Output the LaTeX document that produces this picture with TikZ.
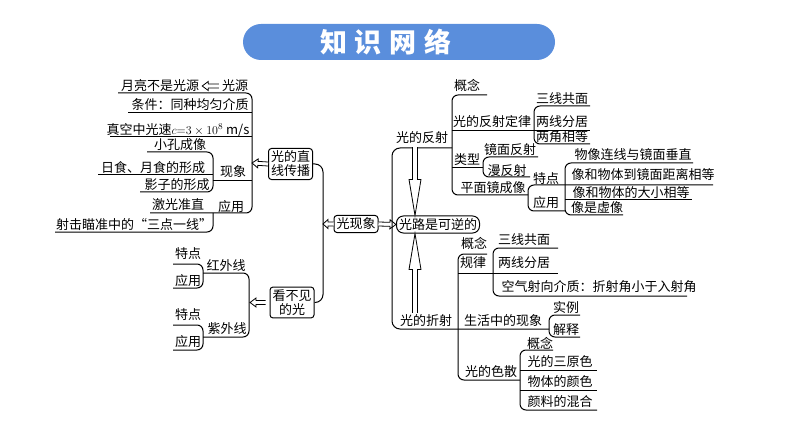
\documentclass[tikz,border=0pt]{standalone}
\usepackage{fontspec}
\setmainfont{Noto Sans CJK SC}
\usepackage{tikz}
\usetikzlibrary{calc}
\definecolor{titleblue}{RGB}{90,142,220}

\tikzset{
  bar/.style={line width=1pt, rounded corners=6pt},
  lbl/.style={inner sep=0pt, font=\fontsize{13}{14}\selectfont},
  tag/.style={lbl, draw, line width=1pt, rounded corners=3pt, inner sep=2.5pt, align=center},
}

% hollow arrow: from, to, head length, head half width, shaft half width
\newcommand{\fatarrow}[5]{%
  \path let \p1=(#1), \p2=(#2) in
    \pgfextra{\pgfmathsetmacro\faang{atan2(\y2-\y1,\x2-\x1)}%
              \pgfmathsetmacro\falen{veclen(\x2-\x1,\y2-\y1)}%
              \xdef\faang{\faang}\xdef\falen{\falen}\xdef\fax{\x1}\xdef\fay{\y1}};
  \begin{scope}[shift={(\fax,\fay)}, rotate=\faang]
    \filldraw[fill=white, line width=0.8pt, line join=miter]
      (0pt,#5) -- (\falen pt-#3,#5) -- (\falen pt-#3,#4) -- (\falen pt,0pt)
      -- (\falen pt-#3,-#4) -- (\falen pt-#3,-#5) -- (0pt,-#5);
  \end{scope}}

\begin{document}
\begin{tikzpicture}[x=1pt, y=-1pt]
  \useasboundingbox (0,0) rectangle (794,446);

  % title
  \fill[titleblue, rounded corners=18pt] (243,24) rectangle (555,60);
  \node[font=\fontsize{27}{27}\selectfont\bfseries, text=white, inner sep=0pt] (title) at (386,42)
    {知\hspace{8pt}识\hspace{8pt}网\hspace{8pt}络};

  % centre
  \node[tag] (phenom) at (356,224) {光现象};
  \node[tag, rounded corners=7pt] (rev) at (438,224.5) {光路是可逆的};
  \node[tag] (straight) at (290.5,164) {光的直\\线传播};
  \node[tag] (invis) at (292,302.5) {看不见\\的光};
  \coordinate (pb) at (323,224);
  \fatarrow{phenom.west}{pb}{5pt}{4.5pt}{2pt}
  \fatarrow{phenom.east}{rev.west}{6pt}{4.5pt}{2pt}
  \draw[bar, rounded corners=8pt] (straight.east) -- ++(10,0) |- (invis.east);

  % light travels in straight lines
  \node[lbl] (moon) at (160,86) {月亮不是光源};
  \node[lbl] (source) at (235,86) {光源};
  \fatarrow{$(source.west)+(-3,0)$}{$(moon.east)+(3,0)$}{6pt}{4.5pt}{2pt}
  \node[lbl] (cond) at (190,105) {条件：同种均匀介质};
  \node[lbl] (speed) at (178,130) {真空中光速$c{=}3\times10^{8}$ m/s};
  \node[lbl] (pinhole) at (180,145) {小孔成像};
  \node[lbl] (eclipse) at (153,168) {日食、月食的形成};
  \node[lbl] (shadow) at (177,185) {影子的形成};
  \node[lbl] (phen) at (233,172) {现象};
  \node[lbl] (laser) at (178,205) {激光准直};
  \node[lbl] (appl) at (231,207) {应用};
  \node[lbl] (aim) at (134,225) {射击瞄准中的“三点一线”};
  \draw[bar] (118,93) -- (252,93) -- (252,213) -- (150,213);
  \draw[bar] (128,113) -- (252,113);
  \draw[bar] (110,137) -- (252,137);
  \draw[bar] (147,152) -- (213,152) -- (213,192) -- (140,192);
  \draw[bar] (98,175) -- (213,175);
  \draw[bar] (213,181) -- (252,181);
  \draw[bar] (55,232) -- (213,232) -- (213,213);
  \coordinate (sb) at (252,163);
  \fatarrow{straight.west}{sb}{6pt}{4.5pt}{2pt}

  % invisible light
  \coordinate (ib) at (250,302.5);
  \fatarrow{$(invis.west)+(-4,0)$}{ib}{6pt}{4.5pt}{2pt}
  \node[lbl] (ir) at (226,266) {红外线};
  \node[lbl] (uv) at (227,329) {紫外线};
  \node[lbl] (irf) at (188,254) {特点};
  \node[lbl] (ira) at (188,281) {应用};
  \node[lbl] (uvf) at (188,315) {特点};
  \node[lbl] (uva) at (188,342) {应用};
  \draw[bar] (203,273) -- (249,273) -- (249,337) -- (203,337);
  \draw[bar] (173,264) -- (203,264) -- (203,288) -- (173,288);
  \draw[bar] (173,325) -- (203,325) -- (203,350) -- (173,350);

  % reflection and refraction
  \node[lbl] (refl) at (422,138) {光的反射};
  \node[lbl] (refr) at (426,321) {光的折射};
  \draw[bar, rounded corners=8pt] (452,148) -- (392,148) -- (392,329) -- (549,329);
  \fatarrow{$(refl.south)+(-7,3)$}{$(rev.north)+(-23,0)$}{36pt}{6pt}{2.5pt}
  \fatarrow{$(refr.north)+(-11,-2)$}{$(rev.south)+(-23,0)$}{36pt}{6pt}{2.5pt}

  % reflection
  \node[lbl] (cpt1) at (467,85) {概念};
  \node[lbl] (law) at (492,122) {光的反射定律};
  \node[lbl] (coplane1) at (562,99) {三线共面};
  \node[lbl] (sides1) at (562,122) {两线分居};
  \node[lbl] (angles) at (562,137) {两角相等};
  \node[lbl] (kind) at (467,160) {类型};
  \node[lbl] (spec) at (510,150) {镜面反射};
  \node[lbl] (diff) at (507,171) {漫反射};
  \node[lbl] (plane) at (493,188) {平面镜成像};
  \node[lbl] (feat) at (546,179) {特点};
  \node[lbl] (use) at (546,203) {应用};
  \node[lbl] (img1) at (633,155) {物像连线与镜面垂直};
  \node[lbl] (img2) at (643,175) {像和物体到镜面距离相等};
  \node[lbl] (img3) at (631,193) {像和物体的大小相等};
  \node[lbl] (img4) at (597,208) {像是虚像};
  \draw[bar] (487,95) -- (452,95) -- (452,195) -- (528,195);
  \draw[bar] (452,131) -- (590,131);
  \draw[bar] (590,106) -- (534,106) -- (534,144) -- (590,144);
  \draw[bar] (452,168) -- (483,168);
  \draw[bar] (538,157) -- (483,157) -- (483,177) -- (530,177);
  \draw[bar] (713,185) -- (528,185) -- (528,211) -- (565,211);
  \draw[bar] (693,163) -- (565,163) -- (565,215) -- (623,215);
  \draw[bar] (565,200) -- (692,200);

  % refraction
  \node[lbl] (cpt2) at (474,243) {概念};
  \node[lbl] (rule) at (473,263) {规律};
  \node[lbl] (coplane2) at (524,240) {三线共面};
  \node[lbl] (sides2) at (524,263) {两线分居};
  \node[lbl] (air) at (599,287) {空气射向介质：折射角小于入射角};
  \node[lbl] (life) at (503,321) {生活中的现象};
  \node[lbl] (case) at (566,308) {实例};
  \node[lbl] (expl) at (566,330) {解释};
  \node[lbl] (disp) at (491,372) {光的色散};
  \node[lbl] (cpt3) at (540,343) {概念};
  \node[lbl] (prim) at (560,362) {光的三原色};
  \node[lbl] (obj) at (560,382) {物体的颜色};
  \node[lbl] (pig) at (560,402) {颜料的混合};
  \draw[bar] (487,254) -- (458,254) -- (458,380) -- (520,380);
  \draw[bar] (458,273) -- (558,273);
  \draw[bar] (558,248) -- (493,248) -- (493,296) -- (687,296);
  \draw[bar] (580,315) -- (549,315) -- (549,337) -- (580,337);
  \draw[bar] (553,350) -- (520,350) -- (520,410) -- (597,410);
  \draw[bar] (520,370) -- (597,370);
  \draw[bar] (520,390) -- (597,390);
\end{tikzpicture}
\end{document}
